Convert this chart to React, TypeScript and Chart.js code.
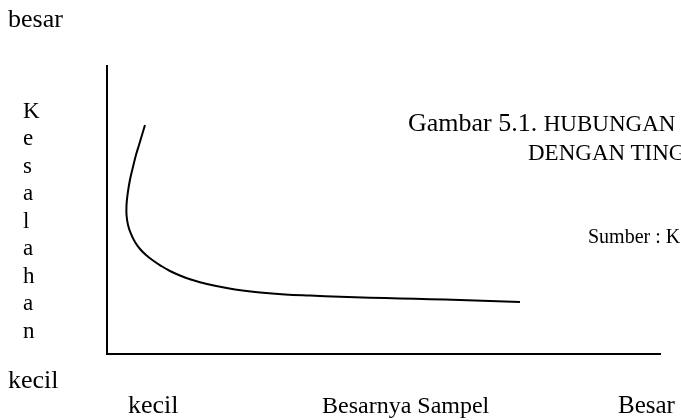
import React, { useEffect, useRef } from "react";
import { Chart, registerables } from "chart.js";

Chart.register(...registerables);

// Besarnya Sampel (relative, 0-100) and Kesalahan (relative, 0-100)
const sampleSize = [
  6.87, 6.33, 5.79, 5.24, 4.79, 4.34, 3.98, 3.71, 3.53, 3.53, 3.8, 4.34, 5.06, 5.97, 7.05, 8.32, 9.76,
  11.39, 13.2, 15.01, 16.82, 19.53, 23.15, 27.67, 32.19, 36.71, 42.13, 47.56, 52.98, 58.41, 63.83, 69.26, 74.68,
];
const errorLevel = [
  79.51, 76.04, 72.57, 69.1, 65.63, 62.15, 58.68, 55.21, 51.74, 48.26, 44.79, 41.67, 38.89, 36.46, 34.38, 32.47,
  30.63, 28.82, 27.26, 25.97, 24.93, 23.68, 22.43, 21.39, 20.69, 20.28, 19.86, 19.55, 19.27, 19.03, 18.75, 18.4, 18.06,
];

const yAxisLetters = "Kesalahan".split("");
const yTopLabel = "besar";
const yBottomLabel = "kecil";
const xLeftLabel = "kecil";
const xTitle = "Besarnya Sampel";
const xRightLabel = "Besar";
const titleLine1a = "Gambar 5.1. ";
const titleLine1b = "HUBUNGAN";
const titleLine2 = "DENGAN TING";
const sourceText = "Sumber : K";

const FONT = '"Liberation Serif", "Times New Roman", Times, serif';

function Txt(props: { x: number; baseline: number; size: number; children: React.ReactNode }) {
  const { x, baseline, size, children } = props;
  return (
    <div
      style={{
        position: "absolute",
        left: x,
        top: baseline - 0.8375 * size,
        fontSize: size,
        lineHeight: size + "px",
        fontFamily: FONT,
        color: "#000",
        whiteSpace: "nowrap",
      }}
    >
      {children}
    </div>
  );
}

export default function App() {
  const ref = useRef<HTMLCanvasElement | null>(null);

  useEffect(() => {
    if (!ref.current) return;
    const points = sampleSize.map((x, i) => ({ x, y: errorLevel[i] }));
    const chart = new Chart(ref.current, {
      type: "scatter",
      data: {
        datasets: [
          {
            data: points,
            showLine: true,
            borderColor: "#000",
            borderWidth: 2,
            pointRadius: 0,
            tension: 0.4,
            fill: false,
          } as any,
        ],
      },
      options: {
        animation: false,
        responsive: false,
        events: [],
        layout: { padding: { left: 107, top: 66, right: 21, bottom: 66 } },
        plugins: { legend: { display: false }, tooltip: { enabled: false }, title: { display: false } },
        scales: {
          x: {
            type: "linear",
            min: 0,
            max: 100,
            grid: { display: false, drawTicks: false },
            border: { display: true, color: "#000", width: 2 },
            ticks: { display: false },
            afterFit: (s: any) => {
              s.height = 0;
            },
          },
          y: {
            type: "linear",
            min: 0,
            max: 100,
            grid: { display: false, drawTicks: false },
            border: { display: true, color: "#000", width: 2 },
            ticks: { display: false },
            afterFit: (s: any) => {
              s.width = 0;
            },
          },
        },
      } as any,
    });
    return () => chart.destroy();
  }, []);

  return (
    <div
      style={{
        position: "fixed",
        left: 0,
        top: 0,
        width: 681,
        height: 420,
        overflow: "hidden",
        background: "#fff",
      }}
    >
      <canvas ref={ref} width={681} height={420} style={{ position: "absolute", left: 0, top: 0, display: "block" }} />
      <Txt x={8} baseline={28} size={26}>{yTopLabel}</Txt>
      {yAxisLetters.map((ch, i) => (
        <Txt key={i} x={23} baseline={118 + i * 27.5} size={23}>
          {ch}
        </Txt>
      ))}
      <Txt x={8} baseline={389} size={26}>{yBottomLabel}</Txt>
      <Txt x={128} baseline={414} size={26}>{xLeftLabel}</Txt>
      <Txt x={322} baseline={413} size={24}>{xTitle}</Txt>
      <Txt x={618} baseline={413} size={25}>{xRightLabel}</Txt>
      <Txt x={408} baseline={131} size={24}>
        <span style={{ fontSize: 26 }}>{titleLine1a}</span>
        <span style={{ fontSize: 23 }}>{titleLine1b}</span>
      </Txt>
      <Txt x={528} baseline={160} size={23}>{titleLine2}</Txt>
      <Txt x={588} baseline={243} size={20}>{sourceText}</Txt>
    </div>
  );
}
